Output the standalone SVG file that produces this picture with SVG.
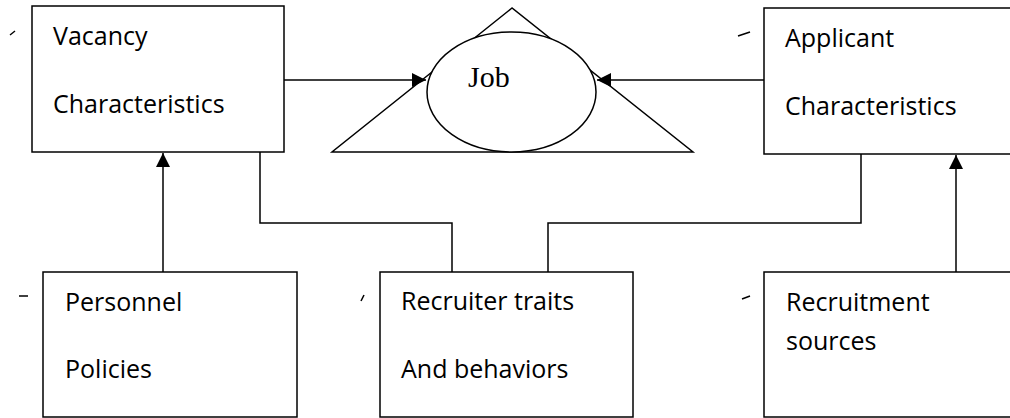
<svg xmlns="http://www.w3.org/2000/svg" width="1010" height="418" viewBox="0 0 1010 418">
<style>
.box{fill:#fff;stroke:#000;stroke-width:1.5}
.lbl{font-family:"Open Sans","Liberation Sans",sans-serif;font-size:25px;fill:#000}
.job{font-family:"Liberation Serif",serif;font-size:30px;fill:#000}
.ln{fill:none;stroke:#000;stroke-width:1.5}
.tick{stroke:#000;stroke-width:1.5}
</style>
<defs>
<marker id="ah" viewBox="0 0 14 14" refX="14" refY="7" markerWidth="14" markerHeight="14" markerUnits="userSpaceOnUse" orient="auto">
<path d="M0,0 L14,7 L0,14 Z" fill="#000"/>
</marker>
</defs>
<g id="job">
<polygon points="512,8 332,152 693,152" class="ln"/>
<ellipse cx="511.5" cy="92" rx="84.5" ry="60" class="box"/>
<text x="468" y="87" class="job">Job</text>
</g>
<g id="connectors">
<line x1="284" y1="80" x2="426" y2="80" class="ln" marker-end="url(#ah)"/>
<line x1="764" y1="80" x2="597" y2="80" class="ln" marker-end="url(#ah)"/>
<line x1="163" y1="272" x2="163" y2="153" class="ln" marker-end="url(#ah)"/>
<line x1="956" y1="272" x2="956" y2="155" class="ln" marker-end="url(#ah)"/>
<polyline points="260,152 260,223 452,223 452,272" class="ln"/>
<polyline points="861,154 861,223 548,223 548,272" class="ln"/>
</g>
<g id="vacancy">
<rect x="32" y="6" width="252" height="146" class="box"/>
<text x="53" y="45" class="lbl">Vacancy</text>
<text x="53" y="113" class="lbl">Characteristics</text>
<line x1="10" y1="35" x2="15" y2="31" class="tick"/>
</g>
<g id="applicant">
<rect x="764" y="8" width="260" height="146" class="box"/>
<text x="785" y="47" class="lbl">Applicant</text>
<text x="785" y="115" class="lbl">Characteristics</text>
<line x1="738" y1="36" x2="750" y2="32" class="tick"/>
</g>
<g id="personnel">
<rect x="43" y="272" width="254" height="145" class="box"/>
<text x="65" y="311" class="lbl">Personnel</text>
<text x="65" y="378" class="lbl">Policies</text>
<line x1="19" y1="296" x2="28" y2="296" class="tick"/>
</g>
<g id="recruiter">
<rect x="380" y="272" width="253" height="145" class="box"/>
<text x="401" y="310" class="lbl">Recruiter traits</text>
<text x="401" y="378" class="lbl">And behaviors</text>
<line x1="361" y1="301" x2="364" y2="295" class="tick"/>
</g>
<g id="recruitment">
<rect x="764" y="272" width="260" height="145" class="box"/>
<text x="786" y="311" class="lbl">Recruitment</text>
<text x="786" y="350" class="lbl">sources</text>
<line x1="742" y1="299" x2="750" y2="296" class="tick"/>
</g>
</svg>
